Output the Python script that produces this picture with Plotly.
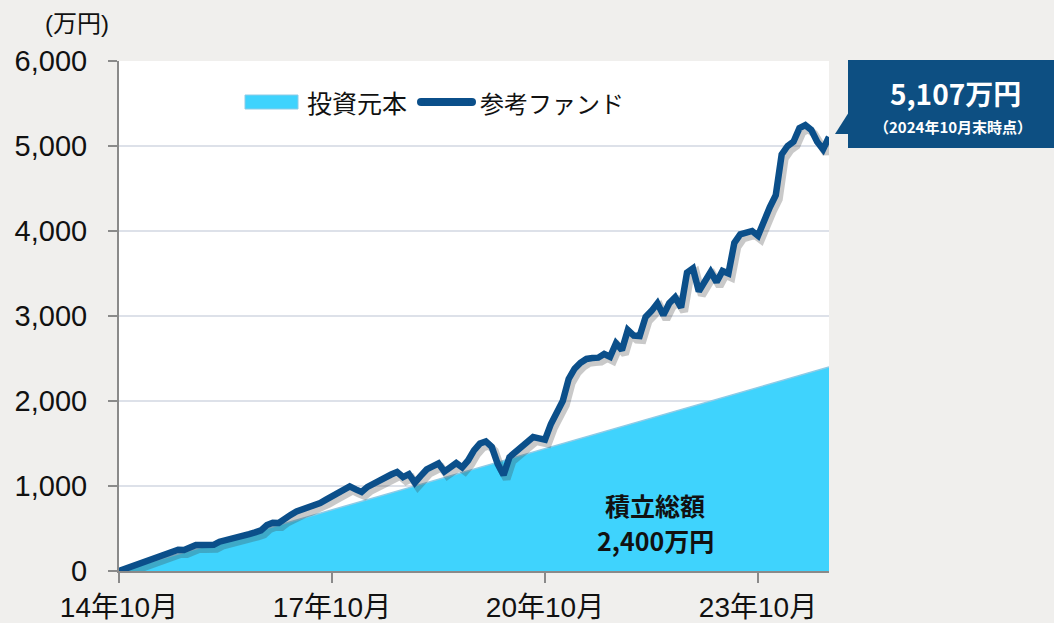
import plotly.graph_objects as go

# ---- data ----
months = list(range(0, 121))
fund_values = [
    0, 26, 52, 78, 104, 130, 156, 182, 208, 234,
    250, 247, 275, 305, 306, 305, 308, 345, 360, 375,
    398, 415, 435, 455, 478, 540, 568, 566, 620, 660,
    700, 722, 745, 772, 800, 840, 880, 920, 955, 995,
    960, 930, 990, 1030, 1050, 1100, 1135, 1165, 1105, 1140,
    1040, 1120, 1195, 1230, 1265, 1170, 1220, 1270, 1220, 1300,
    1420, 1500, 1525, 1460, 1260, 1130, 1340, 1400, 1450, 1520,
    1575, 1560, 1545, 1730, 1850, 2000, 2260, 2380, 2450, 2495,
    2506, 2510, 2553, 2520, 2680, 2600, 2835, 2770, 2765, 2990,
    3060, 3150, 3010, 3150, 3220, 3100, 3510, 3560, 3290, 3420,
    3520, 3400, 3530, 3500, 3860, 3960, 3980, 4000, 3945, 4140,
    4280, 4420, 4900, 5000, 5050, 5210, 5245, 5190, 5050, 4960,
    5107,
]
principal_months = [0, 120]
principal_values = [0, 2400]

series_names = ["投資元本", "参考ファンド"]
x_tick_vals = [0, 36, 72, 108]
x_tick_text = ["14年10月", "17年10月", "20年10月", "23年10月"]
y_tick_vals = [0, 1000, 2000, 3000, 4000, 5000, 6000]

# ---- layout geometry (pixels) ----
W, H = 1054, 623
L, R, T, B = 119, 829, 61, 571
PW, PH = R - L, B - T

def px(xp):
    return (xp - L) / PW

def py(yp):
    return (B - yp) / PH

AREA_COLOR = "#3fd3fd"
LINE_COLOR = "#0b4f8a"
X_RANGE = [0, 120]
Y_RANGE = [0, 6000]
# shadow offset (px -> data)
sdx = 3 * (X_RANGE[1] - X_RANGE[0]) / PW
sdy = 4 * (Y_RANGE[1] - Y_RANGE[0]) / PH

FONT = "Liberation Sans, Arial, Noto Sans CJK JP, sans-serif"
FONT_B = "Noto Sans CJK JP, Liberation Sans, sans-serif"

fig = go.Figure()

fig.add_trace(go.Scatter(
    x=principal_months, y=principal_values, name=series_names[0],
    mode="lines", fill="tozeroy", fillcolor=AREA_COLOR,
    line=dict(color="#8ecbe6", width=1.5),
    xaxis="x", yaxis="y", showlegend=False,
))
fig.add_trace(go.Scatter(
    x=months, y=fund_values, showlegend=False,
    mode="lines", line=dict(color="rgba(60,60,60,0.28)", width=8),
    xaxis="x2", yaxis="y2", hoverinfo="skip",
))
fig.add_trace(go.Scatter(
    x=months, y=fund_values, name=series_names[1],
    mode="lines", line=dict(color=LINE_COLOR, width=6.5),
    xaxis="x3", yaxis="y3", showlegend=False,
))

axis_common = dict(showgrid=False, zeroline=False, showticklabels=False,
                   showline=False, ticks="", fixedrange=True, automargin=False)

fig.update_layout(
    width=W, height=H,
    margin=dict(l=L, r=W - R, t=T, b=H - B, autoexpand=False),
    paper_bgcolor="#f0efed",
    plot_bgcolor="#ffffff",
    font=dict(family=FONT, color="#111111"),
    xaxis=dict(
        range=X_RANGE, tickvals=x_tick_vals, ticktext=x_tick_text,
        showgrid=False, zeroline=False, automargin=False,
        showline=True, linecolor="#8a8a8a", linewidth=2,
        ticks="outside", ticklen=10, tickwidth=2, tickcolor="#8a8a8a",
        tickfont=dict(size=28, family=FONT, color="#111111"),
    ),
    yaxis=dict(
        range=Y_RANGE, tickvals=y_tick_vals, tickformat=",d",
        showgrid=True, gridcolor="#dde1e9", gridwidth=2,
        zeroline=False, automargin=False,
        showline=True, linecolor="#8a8a8a", linewidth=2,
        ticks="outside", ticklen=9, tickwidth=2, tickcolor="#8a8a8a",
        ticklabelstandoff=15,
        tickfont=dict(size=29, family=FONT, color="#111111"),
    ),
    xaxis2=dict(overlaying="x", range=[X_RANGE[0] - sdx, X_RANGE[1] - sdx], **axis_common),
    yaxis2=dict(overlaying="y", range=[Y_RANGE[0] + sdy, Y_RANGE[1] + sdy], **axis_common),
    xaxis3=dict(overlaying="x", range=X_RANGE, **axis_common),
    yaxis3=dict(overlaying="y", range=Y_RANGE, **axis_common),
    showlegend=False,
)

# legend (drawn)
fig.add_shape(type="rect", xref="paper", yref="paper",
              x0=px(245), x1=px(298), y0=py(109), y1=py(95),
              fillcolor=AREA_COLOR, line=dict(color="#8ecbe6", width=1))
fig.add_shape(type="line", xref="paper", yref="paper",
              x0=px(421), x1=px(472), y0=py(102), y1=py(102),
              line=dict(color=LINE_COLOR, width=8))
fig.add_shape(type="circle", xref="paper", yref="paper",
              x0=px(417), x1=px(425), y0=py(106), y1=py(98),
              fillcolor=LINE_COLOR, line=dict(width=0))
fig.add_shape(type="circle", xref="paper", yref="paper",
              x0=px(468), x1=px(476), y0=py(106), y1=py(98),
              fillcolor=LINE_COLOR, line=dict(width=0))

# callout box
fig.add_shape(type="rect", xref="paper", yref="paper",
              x0=px(848), x1=px(1060), y0=py(148), y1=py(60),
              fillcolor="#0d4f82", line=dict(width=0), layer="above")
fig.add_shape(type="path", xref="paper", yref="paper",
              path=f"M {px(849)} {py(112)} L {px(835)} {py(134)} L {px(849)} {py(134)} Z",
              fillcolor="#0d4f82", line=dict(width=0), layer="above")

annotations = [
    dict(x=px(305), y=py(102), text=series_names[0], xanchor="left",
         font=dict(size=25, color="#111111", family=FONT_B)),
    dict(x=px(478), y=py(102), text=series_names[1], xanchor="left",
         font=dict(size=24, color="#111111", family=FONT_B)),
    dict(x=px(955), y=py(93), text="<b>5,107万円</b>",
         font=dict(size=28, color="white", family=FONT_B)),
    dict(x=px(953), y=py(127), text="<b>（2024年10月末時点）</b>",
         font=dict(size=15, color="white", family=FONT_B)),
    dict(x=px(77), y=py(23), text="(万円)",
         font=dict(size=24, color="#111111", family=FONT)),
    dict(x=px(655), y=py(505), text="<b>積立総額</b>",
         font=dict(size=25, color="#111111", family=FONT_B)),
    dict(x=px(655), y=py(540), text="<b>2,400万円</b>",
         font=dict(size=25, color="#111111", family=FONT_B)),
]
for a in annotations:
    a.setdefault("xanchor", "center")
    fig.add_annotation(xref="paper", yref="paper", showarrow=False,
                       yanchor="middle", **a)

fig.write_html("out.html")
